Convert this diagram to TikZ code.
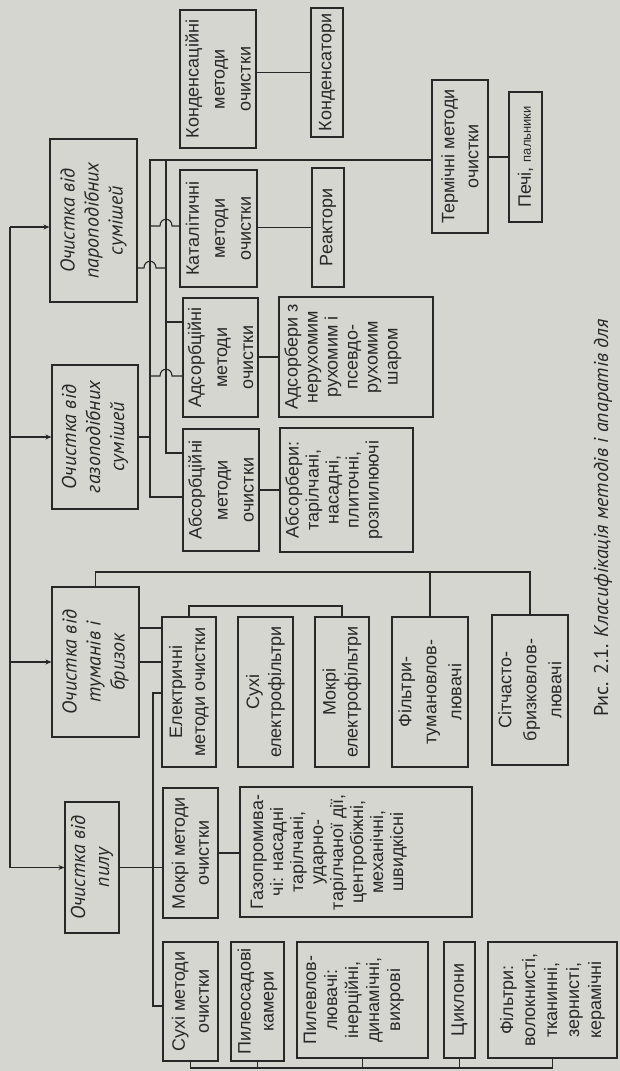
\documentclass[tikz,border=0pt]{standalone}
\usepackage{fontspec}
\setmainfont{Liberation Sans}
\newfontfamily\ptsans{PT Sans}
\usetikzlibrary{arrows.meta}
\definecolor{paper}{RGB}{214,214,208}
\definecolor{ink}{RGB}{40,40,40}
\begin{document}
\begin{tikzpicture}[x=1pt,y=-1pt,
  bx/.style={draw=ink, line width=1.1pt, rotate=90, inner sep=0pt, align=center, text=ink, font=\fontsize{18}{21}\selectfont},
  lead/.style={font=\fontsize{18}{#1}\selectfont},
  tbx/.style={bx, font=\ptsans\itshape\fontsize{20}{24}\selectfont},
  wire/.style={draw=ink, line width=1.1pt},
  arr/.style={wire, -{Stealth[length=6pt,width=5pt]}}]
\fill[paper] (0,0) rectangle (620,1071);
\useasboundingbox (0,0) rectangle (620,1071);

% top-level boxes
\node[tbx, minimum width=131pt, minimum height=54pt] (pylu) at (92,867.5) {Очистка від\\пилу};
\node[tbx, minimum width=150pt, minimum height=87pt] (tum) at (95.5,662) {Очистка від\\туманів і\\бризок};
\node[tbx, minimum width=144pt, minimum height=86pt] (gaz) at (95,437) {Очистка від\\газоподібних\\сумішей};
\node[tbx, minimum width=163pt, minimum height=87pt] (par) at (93.5,220.5) {Очистка від\\пароподібних\\сумішей};

% second level
\node[bx, lead=24, minimum width=130pt, minimum height=55pt] (mokri) at (190.5,853) {Мокрі методи\\очистки};
\node[bx, lead=24, minimum width=119pt, minimum height=55pt] (suhi) at (190.5,1001.5) {Сухі методи\\очистки};
\node[bx, lead=23, minimum width=150pt, minimum height=54pt] (elek) at (189,692) {Електричні\\методи очистки};
\node[bx, lead=26, minimum width=122pt, minimum height=76pt] (absc) at (221,490) {Абсорбційні\\методи\\очистки};
\node[bx, lead=26, minimum width=119pt, minimum height=75pt] (adsc) at (220.5,357.5) {Адсорбційні\\методи\\очистки};
\node[bx, lead=26, minimum width=117pt, minimum height=77pt] (katal) at (218.5,228.5) {Каталітичні\\методи\\очистки};
\node[bx, lead=26, minimum width=138pt, minimum height=76pt] (kond) at (218,79) {Конденсаційні\\методи\\очистки};

% third level
\node[bx, lead=20, minimum width=130pt, minimum height=232pt] (gazpr) at (356,852) {Газопромива-\\чі: насадні\\тарілчані,\\ударно-\\тарілчаної дії,\\центробіжні,\\механічні,\\швидкісні\\[38pt]\mbox{}};
\node[bx, lead=23, minimum width=119pt, minimum height=53pt] (pyleos) at (257.5,1001.5) {Пилеосадові\\камери};
\node[bx, minimum width=116pt, minimum height=131pt] (pylevl) at (362.5,1000) {Пилевлов-\\лювачі:\\інерційні,\\динамічні,\\вихрові\\[0pt]\mbox{}};
\node[bx, minimum width=116pt, minimum height=31pt] (cykl) at (459.5,1000) {Циклони};
\node[bx, lead=22, minimum width=116pt, minimum height=129pt] (filtr) at (552.5,1000) {Фільтри:\\волокнисті,\\тканинні,\\зернисті,\\керамічні};
\node[bx, lead=22, minimum width=150pt, minimum height=55pt] (sukhef) at (265.5,692) {Сухі\\електрофільтри};
\node[bx, lead=22, minimum width=150pt, minimum height=54pt] (mokref) at (342,692) {Мокрі\\електрофільтри};
\node[bx, lead=25, minimum width=150pt, minimum height=76pt] (filtum) at (430,692) {Фільтри-\\тумановлов-\\лювачі};
\node[bx, lead=25, minimum width=150pt, minimum height=76pt] (sitch) at (530,690) {Сітчасто-\\бризковлов-\\лювачі};
\node[bx, lead=20, minimum width=124pt, minimum height=133pt] (absorb) at (346.5,490) {Абсорбери:\\тарілчані,\\насадні,\\плиточні,\\розпилюючі\\[9pt]\mbox{}};
\node[bx, lead=20, minimum width=120pt, minimum height=154pt] (adsorb) at (356,357) {Адсорбери з\\нерухомим\\рухомим і\\псевдо-\\рухомим\\шаром\\[10pt]\mbox{}};
\node[bx, minimum width=129pt, minimum height=32pt] (kondr) at (327,72.5) {Конденсатори};
\node[bx, minimum width=119pt, minimum height=32pt] (reakt) at (328,227.5) {Реактори};
\node[bx, lead=24, minimum width=153pt, minimum height=56pt] (term) at (460,156.5) {Термічні методи\\очистки};
\node[bx, minimum width=130pt, minimum height=33pt] (pechi) at (525.5,157) {Печі, {\fontsize{13}{15}\selectfont пальники}};

% caption
\node[rotate=90, text=ink, font=\ptsans\fontsize{20}{24}\selectfont] (cap) at (603,518) {Рис. 2.1. \textit{Класифікація методів і апаратів для}};

% main bus
\coordinate (bt) at (10,227);
\coordinate (bb) at (10,867.5);
\draw[wire] (bt) -- (bb);
\draw[arr] (bt) -- (par.north |- bt);
\draw[arr] (bb |- gaz.north) -- (gaz.north);
\draw[arr] (bb |- tum.north) -- (tum.north);
\draw[arr] (bb) -- (pylu.north);

% dust tree
\draw[wire] (pylu.south) -- (mokri.north |- pylu.south);
\coordinate (tr1) at (153,693);
\coordinate (tr2) at (153,1006);
\draw[wire] (elek.north |- tr1) -- (tr1) -- (tr2) -- (suhi.north |- tr2);
\draw[wire] (mokri.south) -- (gazpr.north |- mokri.south);
\coordinate (bus) at (0,1068);
\draw[wire] (suhi.west) -- (suhi.west |- bus) -- (filtr.west |- bus) -- (filtr.west);
\foreach \n in {pyleos,pylevl,cykl} \draw[wire] (\n.west) -- (\n.west |- bus);

% mist tree
\draw[wire] (tum.south |- 0,628) -- (elek.north |- 0,628);
\draw[wire] (tum.south) -- (elek.north |- tum.south);
\coordinate (tb) at (0,572);
\draw[wire] (tum.east) -- (tum.east |- tb) -- (sitch.east |- tb) -- (sitch.east);
\draw[wire] (filtum.east |- tb) -- (filtum.east);
\coordinate (eb) at (0,606);
\draw[wire] (elek.east) -- (elek.east |- eb) -- (mokref.east |- eb) -- (mokref.east);

% gas / vapour tree
\coordinate (A) at (150,160);
\coordinate (B) at (166,160);
\draw[wire] (absc.north |- 0,497) -- (A |- 0,497) -- (A) -- (term.north |- A);
\draw[wire] (B) -- (B |- 0,453) -- (absc.north |- 0,453);
\draw[wire] (gaz.south) -- (gaz.south -| A);
\draw[wire] (par.south |- 0,268) -- (144,268) .. controls +(0,-9) and +(0,-9) .. (156,268) -- (B |- 0,268);
\draw[wire] (A |- 0,226) -- (160,226) .. controls +(0,-9) and +(0,-9) .. (172,226) -- (katal.north |- 0,226);
\draw[wire] (B |- 0,322) -- (adsc.north |- 0,322);
\draw[wire] (A |- 0,376) -- (160,376) .. controls +(0,-9) and +(0,-9) .. (172,376) -- (adsc.north |- 0,376);
\draw[wire] (kond.south |- kondr.north) -- (kondr.north);
\draw[wire] (katal.south |- reakt.north) -- (reakt.north);
\draw[wire] (adsc.south |- adsorb.north) -- (adsorb.north);
\draw[wire] (absc.south |- absorb.north) -- (absorb.north);
\draw[wire] (term.south |- pechi.north) -- (pechi.north);
\end{tikzpicture}
\end{document}
